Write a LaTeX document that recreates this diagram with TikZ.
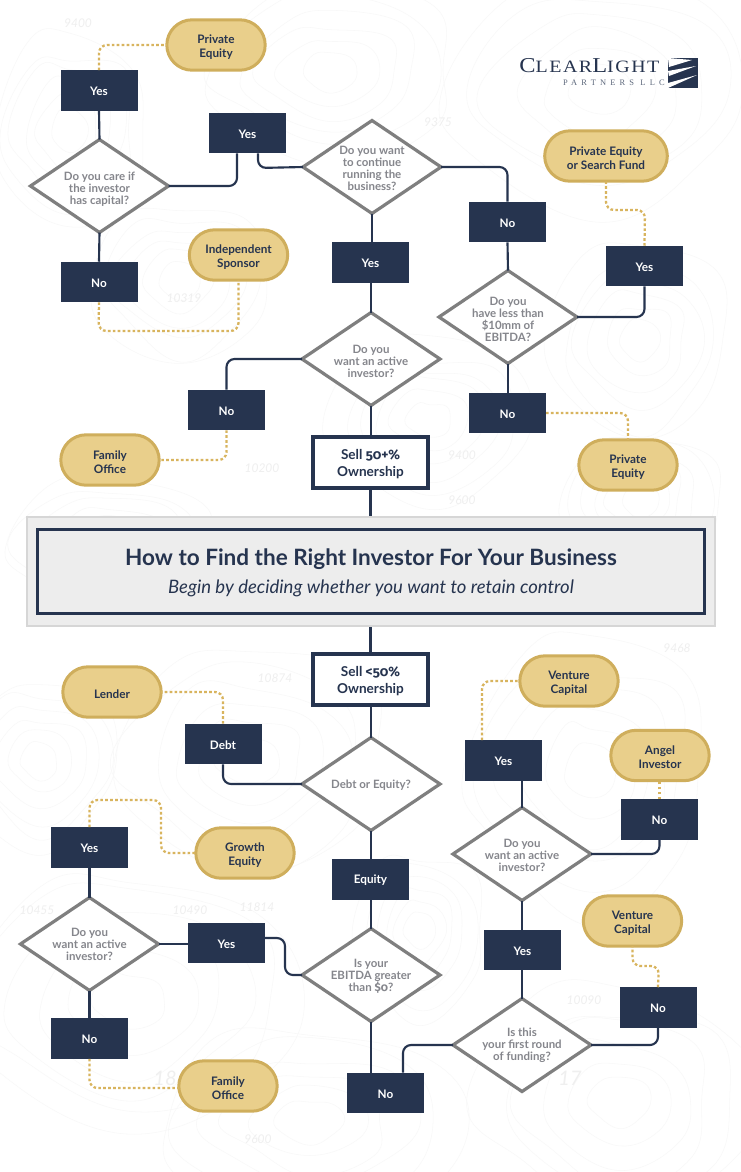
\documentclass[tikz,border=0pt]{standalone}
\usepackage{fontspec}
\setmainfont{Lato}
\newfontfamily\oldnum[Numbers=OldStyle]{Fira Sans}
\usetikzlibrary{calc}
\definecolor{navy}{HTML}{26344F}
\definecolor{goldf}{HTML}{E9CF8B}
\definecolor{goldd}{HTML}{CFAE5C}
\definecolor{dots}{HTML}{D8B45E}
\definecolor{dgray}{HTML}{7F7F7F}
\definecolor{qgray}{HTML}{85868C}
\definecolor{topo}{HTML}{F8F8F8}
\definecolor{topolabel}{HTML}{EFEFEF}
\tikzset{
  x=0.75pt,y=-0.75pt,
  toppad/.style={execute at begin node={\vbox\bgroup\vskip#1\hbox\bgroup},execute at end node={\egroup\egroup}},
  answer/.style={rectangle,fill=navy,text=white,font=\fontsize{8.8pt}{10pt}\selectfont\bfseries,minimum width=57.75pt,minimum height=30.4pt,inner sep=0pt,outer sep=0pt,toppad=1.5pt},
  outcome/.style={rectangle,rounded corners=19pt,draw=goldd,line width=2.25pt,fill=goldf,text=navy,font=\fontsize{8.8pt}{10.6pt}\selectfont\bfseries,align=center,minimum width=73.8pt,minimum height=37.8pt,inner sep=0pt,outer sep=0pt,toppad=3pt},
  question/.style={fill=white,draw=dgray,line width=2.4pt,line join=miter},
  qtext/.style={text=qgray,font=\fontsize{8.6pt}{9pt}\selectfont\bfseries,align=center},
  sellbox/.style={rectangle,draw=navy,line width=3pt,fill=white,text=navy,font=\fontsize{10.2pt}{12.6pt}\selectfont\bfseries,align=center,minimum width=86.2pt,minimum height=38.2pt,inner sep=0pt,outer sep=0pt,toppad=2pt},
  link/.style={draw=navy,line width=1.6pt,rounded corners=6pt},
  trunk/.style={draw=navy,line width=2.8pt},
  dotlink/.style={draw=dots,line width=1.7pt,dash pattern=on 2pt off 1.7pt,rounded corners=6pt},
  contour/.style={draw=topo,line width=0.4pt},
  elev/.style={text=topolabel,font=\fontsize{9pt}{10pt}\selectfont\itshape,inner sep=0pt},
}
\newcommand{\decision}[5]{%
  \coordinate (#1) at (#2,#3);
  \coordinate (#1n) at (#2,#3-46.5);
  \coordinate (#1s) at (#2,#3+46.5);
  \coordinate (#1w) at (#2-69,#3);
  \coordinate (#1e) at (#2+69,#3);
  \draw[question] (#1n) -- (#1e) -- (#1s) -- (#1w) -- cycle;
  \node[qtext] (#1t) at (#2,#3+#4) {#5};
}
\begin{document}
\begin{tikzpicture}
\useasboundingbox (0,0) rectangle (740,1172);
\fill[white] (0,0) rectangle (740,1172);
% faint contour background
\pgfmathsetseed{11}
\foreach \cx/\cy/\r/\sx in {180/280/50/1.1,70/130/60/0.8,330/70/55/1.4,600/90/70/1.3,640/340/60/0.9,430/420/50/1.2,110/540/40/1.6,640/500/45/1.1,250/760/70/1.2,590/770/80/0.9,130/1000/80/1.3,620/1100/70/1.2,310/1120/60/1.5,420/930/50/0.8,40/760/50/1}{
  \foreach \k in {0.35,0.6,0.85,1.1,1.35,1.6}{
    \draw[contour,xshift=\cx*0.75pt,yshift=-\cy*0.75pt] plot[smooth cycle,tension=0.7] coordinates {
      ({\sx*\k*\r*(1+0.12*rand)},0)
      ({\sx*0.75*\k*\r*(1+0.12*rand)},{0.7*\k*\r*(1+0.12*rand)})
      (0,{1.1*\k*\r*(1+0.12*rand)})
      ({-\sx*0.8*\k*\r*(1+0.12*rand)},{0.6*\k*\r*(1+0.12*rand)})
      ({-\sx*1.1*\k*\r*(1+0.12*rand)},0)
      ({-\sx*0.6*\k*\r*(1+0.12*rand)},{-0.85*\k*\r*(1+0.12*rand)})
      (0,{-0.95*\k*\r*(1+0.12*rand)})
      ({\sx*0.8*\k*\r*(1+0.12*rand)},{-0.7*\k*\r*(1+0.12*rand)})};
  }
}
\node[elev] (ea) at (78,23) {9400};
\node[elev] (eb) at (438,122) {9375};
\node[elev] (ec) at (184,298) {10319};
\node[elev] (ed) at (462,455) {9400};
\node[elev] (ee) at (462,500) {9600};
\node[elev] (ef) at (262,468) {10200};
\node[elev] (eg) at (677,648) {9468};
\node[elev] (eh) at (275,678) {10874};
\node[elev] (ei) at (37,910) {10455};
\node[elev] (ej) at (190,910) {10490};
\node[elev] (ek) at (257,907) {11814};
\node[elev] (el) at (258,1139) {9600};
\node[elev,font=\fontsize{15pt}{16pt}\selectfont\itshape] (em) at (570,1078) {17};
\node[elev,font=\fontsize{15pt}{16pt}\selectfont\itshape] (en) at (165,1078) {18};
\node[elev] (eo) at (584,1000) {10090};
% upper half nodes
\decision{d1}{99.5}{186}{3}{Do you care if\\the investor\\has capital?}
\decision{d2}{372}{167}{1}{Do you want\\to continue\\running the\\business?}
\decision{d3}{371}{359}{2}{Do you\\want an active\\investor?}
\decision{d4}{508}{317}{2}{Do you\\have less than\\\$10mm of\\EBITDA?}
\node[answer] (yesa) at (99,90.5) {Yes};
\node[answer] (yesb) at (247.5,133) {Yes};
\node[answer] (noa) at (99,282) {No};
\node[answer] (yesc) at (370.5,262.5) {Yes};
\node[answer] (nob) at (226.5,410) {No};
\node[answer] (noc) at (507.5,222) {No};
\node[answer] (yesd) at (644.5,266) {Yes};
\node[answer] (nod) at (507.5,413) {No};
\node[outcome] (pea) at (216,45) {Private\\Equity};
\node[outcome] (indep) at (238.5,255) {Independent\\Sponsor};
\node[outcome] (foa) at (110,460) {Family\\Office};
\node[outcome,minimum width=92pt] (pesf) at (606,156) {Private Equity\\or Search Fund};
\node[outcome] (peb) at (628,465) {Private\\Equity};
\node[sellbox] (sella) at (370.5,462.5) {Sell {\oldnum 50+\%}\\Ownership};
% banner
\node[rectangle,draw=black!16,line width=1.5pt,fill=black!7,minimum width=516pt,minimum height=82pt,inner sep=0pt] (banner) at (371,571.5) {};
\node[rectangle,draw=navy,line width=2.6pt,minimum width=500pt,minimum height=63pt,inner sep=0pt] (bannerin) at (371,571.5) {};
\node[text=navy,font=\fontsize{16.9pt}{18pt}\selectfont\bfseries] (title) at (371,559) {How to Find the Right Investor For Your Business};
\node[text=navy,font=\fontsize{13.9pt}{15pt}\selectfont\itshape] (subtitle) at (371,588) {Begin by deciding whether you want to retain control};
% lower half nodes
\node[sellbox] (sellb) at (370.5,679.5) {Sell {\oldnum <50\%}\\Ownership};
\decision{d5}{371}{784}{1}{Debt or Equity?}
\decision{d6}{371}{975}{1}{Is your\\EBITDA greater\\than {\oldnum\$0}?}
\decision{d7}{89.5}{944}{0.5}{Do you\\want an active\\investor?}
\decision{d8}{522}{854}{1.5}{Do you\\want an active\\investor?}
\decision{d9}{522}{1045}{0.5}{Is this\\your first round\\of funding?}
\node[answer] (debt) at (223,744) {Debt};
\node[answer] (equity) at (370.5,879.5) {Equity};
\node[answer] (yese) at (226.5,943) {Yes};
\node[answer] (yesf) at (89.5,847.5) {Yes};
\node[answer] (noe) at (89.5,1038.5) {No};
\node[answer] (nof) at (385.5,1093) {No};
\node[answer] (yesg) at (503.5,760.5) {Yes};
\node[answer] (nog) at (659.5,819.5) {No};
\node[answer] (yesh) at (522.5,950) {Yes};
\node[answer] (noh) at (658,1007.5) {No};
\node[outcome] (lender) at (112,692) {Lender};
\node[outcome] (growth) at (245,853) {Growth\\Equity};
\node[outcome] (fob) at (228,1086) {Family\\Office};
\node[outcome] (vca) at (569,681) {Venture\\Capital};
\node[outcome] (angel) at (660,755.5) {Angel\\Investor};
\node[outcome] (vcb) at (632.5,921) {Venture\\Capital};
% connectors
\draw[link] (yesa.south) -- (d1n);
\draw[link] (d1s) -- (noa.north);
\draw[link] (d1e) -- (237,186) -- (237,0 |- yesb.south);
\draw[link] (258,0 |- yesb.south) -- (258,168) -- (d2w);
\draw[link] (d2s) -- (d2s |- yesc.north);
\draw[link] (d3n |- yesc.south) -- (d3n);
\draw[link] (d3s) -- (d3s |- sella.north);
\draw[link] (d3w) -- (nob.north |- d3w) -- (nob.north);
\draw[link] (d2e) -- (noc.north |- d2e) -- (noc.north);
\draw[link] (noc.south) -- (d4n);
\draw[link] (d4s) -- (d4s |- nod.north);
\draw[link] (d4e) -- (yesd.south |- d4e) -- (yesd.south);
\draw[dotlink] (yesa.north) -- (yesa.north |- pea.west) -- (pea.west);
\draw[dotlink] (noa.south) -- (98.5,331) -- (indep.south |- 0,331) -- (indep.south);
\draw[dotlink] (nob.south) -- (nob.south |- foa.east) -- (foa.east);
\draw[dotlink] (yesd.north) -- (645,210) -- (606,210) -- (pesf.south);
\draw[dotlink] (nod.east) -- (peb.north |- nod.east) -- (peb.north);
\draw[trunk] (sella.south) -- (sella.south |- banner.north);
\draw[trunk] (sellb.north |- banner.south) -- (sellb.north);
\draw[link] (sellb.south -| d5n) -- (d5n);
\draw[link] (d5s) -- (d5s |- equity.north);
\draw[link] (d6n |- equity.south) -- (d6n);
\draw[link] (d5w) -- (debt.south |- d5w) -- (debt.south);
\draw[link] (d6s) -- (d6s |- nof.north);
\draw[link] (d6w) -- (285,975) -- (285,938) -- (yese.east |- 0,938);
\draw[link] (yese.west |- d7e) -- (d7e);
\draw[link] (yesf.south) -- (d7n);
\draw[link] (d7s) -- (noe.north);
\draw[link] (d9w) -- (403,1045) -- (403,0 |- nof.north);
\draw[link] (d9e) -- (noh.south |- d9e) -- (noh.south);
\draw[link] (d9n) -- (d9n |- yesh.south);
\draw[link] (yesh.north -| d8s) -- (d8s);
\draw[link] (d8e) -- (nog.south |- d8e) -- (nog.south);
\draw[link] (d8n) -- (d8n |- yesg.south);
\draw[dotlink] (debt.north) -- (debt.north |- lender.east) -- (lender.east);
\draw[dotlink] (yesf.north) -- (89.5,800) -- (161,800) -- (161,853) -- (growth.west);
\draw[dotlink] (noe.south) -- (89.5,1088) -- (fob.west |- 0,1088);
\draw[dotlink] (482,0 |- yesg.north) -- (482,681) -- (vca.west);
\draw[dotlink] (nog.north) -- (nog.north |- angel.south);
\draw[dotlink] (noh.north) -- (659,966) -- (632.5,966) -- (vcb.south);
% logo
\newfontfamily\logofont[FakeStretch=1.15,LetterSpace=9]{Liberation Serif}
\newfontfamily\logosub[LetterSpace=50]{Liberation Serif}
\node[anchor=base west,inner sep=0pt,text=navy] (logoa) at (519,72) {\logofont\fontsize{15.9pt}{16pt}\selectfont C\fontsize{13pt}{16pt}\selectfont LEAR\fontsize{15.9pt}{16pt}\selectfont L\fontsize{13pt}{16pt}\selectfont IGHT};
\node[anchor=base east,inner sep=0pt,text=navy!75] (logob) at (665,85) {\logosub\fontsize{6.3pt}{7pt}\selectfont PARTNERS LLC};
\fill[navy] (668,58) rectangle (698,88);
\fill[white] (668,58) -- (692,60) -- (669,67) -- cycle;
\fill[white] (668,71) -- (696,66) -- (669,76) -- cycle;
\fill[white] (668,83) -- (697,75) -- (668,88) -- cycle;
\end{tikzpicture}
\end{document}
